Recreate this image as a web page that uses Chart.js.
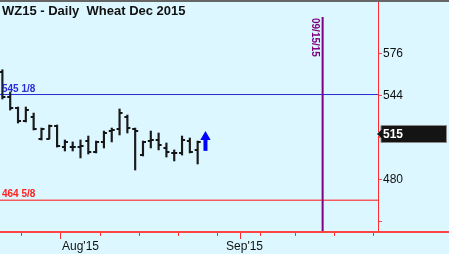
<!DOCTYPE html>
<html><head><meta charset="utf-8">
<script src="https://cdn.jsdelivr.net/npm/chart.js@4.4.1/dist/chart.umd.min.js"></script>
<style>html,body{margin:0;padding:0;background:#dcf7ff;overflow:hidden}#wrap{width:449px;height:254px;position:relative}</style>
</head><body><div id="wrap"><canvas id="c"></canvas></div>
<script>
// ---- data ----
const title = 'WZ15 - Daily  Wheat Dec 2015';
const dates = ['07/20','07/21','07/22','07/23','07/24','07/27','07/28','07/29','07/30','07/31',
               '08/03','08/04','08/05','08/06','08/07','08/10','08/11','08/12','08/13','08/14',
               '08/17','08/18','08/19','08/20','08/21','08/24'];
const highs  = [564.0,547.0,535.6,535.6,531.0,519.6,521.9,521.9,510.5,509.0,510.5,513.5,509.7,517.3,519.6,534.1,529.5,519.6,509.7,517.3,515.8,508.2,502.9,513.5,512.0,509.7];
const lows   = [541.7,533.3,523.4,524.2,518.1,510.5,511.2,505.1,502.1,502.1,496.8,499.8,500.6,504.4,509.0,514.3,515.8,487.6,498.3,504.4,502.9,497.5,494.5,499.0,500.6,492.2];
const opens  = [562.3,543.2,534.9,525.0,528.0,511.2,511.2,521.1,505.1,505.1,505.1,509.7,501.3,509.0,517.3,518.9,528.0,518.9,499.0,509.7,510.5,504.4,500.6,500.6,509.7,502.9];
const closes = [543.2,534.9,525.0,533.3,518.9,518.9,521.1,505.9,509.0,505.1,505.9,501.3,509.0,515.8,518.1,531.0,519.6,517.3,509.0,510.5,506.7,501.3,500.6,510.5,501.3,509.0];
const levelValues = [545.125, 464.625];
const levelLabels = ['545 1/8', '464 5/8'];
const levelColors = ['#2b2bd6', '#ff2020'];
const markerIndex = 41;           // 09/15/15
const markerLabel = '09/15/15';
const markerTop = 604.2;
const lastPrice = 515;
const arrowIndex = 26;
const arrowShaft = [502.2, 510.8];
const arrowHead = 512.7;
const yTickValues = [448, 480, 512, 544, 576];
const yTickLabels = {480: '480', 544: '544', 576: '576'};
const xTickValues = [0, 5, 10, 15, 20, 25, 30, 31, 35, 40, 45];
const xMonthLabels = {10: "Aug'15", 31: "Sep'15"};
const xMin = -0.307, xMax = 48.09, yMin = 440.38, yMax = 617.14;

// ---- rendering ----
const FONT = '"Liberation Sans", Arial, sans-serif';
function tickCanvas(side){
  const c = document.createElement('canvas'); c.width = 8; c.height = 2;
  const g = c.getContext('2d'); g.fillStyle = '#151515';
  if (side === 'left') g.fillRect(1, 0, 3, 2); else g.fillRect(4, 0, 3, 2);
  return c;
}
const idx = dates.map((d, i) => i);
const hl = idx.map(i => ({x: i, y: [lows[i], highs[i]]}));
const op = idx.map(i => ({x: i, y: opens[i]}));
const cl = idx.map(i => ({x: i, y: closes[i]}));

const overlay = {
  id: 'overlay',
  beforeDraw(chart){
    const c = chart.ctx; c.save(); c.fillStyle = '#dcf7ff'; c.fillRect(0, 0, chart.width, chart.height); c.restore();
  },
  afterDraw(chart){
    const c = chart.ctx, ys = chart.scales.y, xs = chart.scales.x, a = chart.chartArea;
    c.save();
    c.fillStyle = '#f44'; c.fillRect(0, a.bottom - 1, chart.width, 2);
    c.fillStyle = '#666'; c.fillRect(0, 0, chart.width, 2);
    c.fillStyle = '#111'; c.font = 'bold 13px ' + FONT; c.textBaseline = 'alphabetic';
    c.fillText(title, 2, 15);
    c.font = 'bold 10px ' + FONT;
    levelValues.forEach((v, k) => {
      c.fillStyle = levelColors[k];
      c.fillText(levelLabels[k], 2, ys.getPixelForValue(v) - 3);
    });
    const mx = xs.getPixelForValue(markerIndex);
    c.save(); c.translate(mx - 11, ys.getPixelForValue(markerTop) + 1); c.rotate(Math.PI / 2);
    c.fillStyle = '#800080'; c.font = 'bold 10px ' + FONT; c.textBaseline = 'alphabetic';
    c.fillText(markerLabel, 0, 0); c.restore();
    const py = Math.round(ys.getPixelForValue(lastPrice));
    const bx = a.right + 3;
    c.fillStyle = '#141414'; c.strokeStyle = '#888'; c.lineWidth = 1;
    c.beginPath();
    c.moveTo(a.right - 1, py);
    c.lineTo(bx, py - 4); c.lineTo(bx, py - 8.5); c.lineTo(chart.width - 2.5, py - 8.5);
    c.lineTo(chart.width - 2.5, py + 8.5); c.lineTo(bx, py + 8.5); c.lineTo(bx, py + 4); c.closePath();
    c.fill(); c.stroke();
    c.fillStyle = '#fff'; c.font = 'bold 12px ' + FONT; c.textBaseline = 'middle';
    c.fillText(String(lastPrice), bx + 2, py + 1);
    c.restore();
  }
};

new Chart(document.getElementById('c'), {
  type: 'bar',
  data: {
    datasets: [
      {type: 'bar', data: hl, backgroundColor: '#1a1a1a', barThickness: 1.5, grouped: false, order: 5},
      {type: 'scatter', data: op, pointStyle: tickCanvas('left'), pointRadius: 4, order: 4},
      {type: 'scatter', data: cl, pointStyle: tickCanvas('right'), pointRadius: 4, order: 4},
      {type: 'line', data: [{x: xMin, y: levelValues[0]}, {x: xMax, y: levelValues[0]}], borderColor: '#2b2bd6', borderWidth: 1, pointRadius: 0, order: 6},
      {type: 'line', data: [{x: xMin, y: levelValues[1]}, {x: xMax, y: levelValues[1]}], borderColor: '#ff1010', borderWidth: 1, pointRadius: 0, order: 6},
      {type: 'line', data: [{x: markerIndex, y: markerTop}, {x: markerIndex, y: yMin}], borderColor: '#800080', borderWidth: 2, pointRadius: 0, order: 3},
      {type: 'line', data: [{x: arrowIndex, y: arrowShaft[0]}, {x: arrowIndex, y: arrowShaft[1]}], borderColor: '#0000ff', borderWidth: 4, pointRadius: 0, order: 2},
      {type: 'scatter', data: [{x: arrowIndex, y: arrowHead}], pointStyle: 'triangle', pointRadius: 6, backgroundColor: '#0000ff', borderColor: '#0000ff', borderWidth: 0, order: 1}
    ]
  },
  options: {
    responsive: true, maintainAspectRatio: false, animation: false, devicePixelRatio: 1,
    layout: {padding: 0, autoPadding: false},
    plugins: {legend: {display: false}, tooltip: {enabled: false}, title: {display: false}},
    scales: {
      x: {
        type: 'linear', min: xMin, max: xMax, offset: false,
        border: {color: '#ff2a2a', width: 2},
        grid: {drawOnChartArea: false, tickLength: 7, tickColor: '#ff2a2a', tickWidth: 1,
               tickBorderDash: ctx => (ctx.tick && xMonthLabels[ctx.tick.value] !== undefined) ? [] : [3, 20]},
        afterBuildTicks: s => { s.ticks = xTickValues.map(v => ({value: v})); },
        ticks: {autoSkip: false, maxRotation: 0, padding: 0, color: '#111', font: {family: FONT, size: 12},
                callback: v => xMonthLabels[v] || ''},
        afterFit: s => { s.height = 22; s.paddingLeft = 0; s.paddingRight = 0; }
      },
      y: {
        type: 'linear', position: 'right', min: yMin, max: yMax,
        border: {color: '#ff2a2a', width: 1},
        grid: {drawOnChartArea: false, tickLength: 4, tickColor: '#ff4a4a', tickWidth: 1},
        afterBuildTicks: s => { s.ticks = yTickValues.map(v => ({value: v})); },
        ticks: {padding: 1, color: '#111', font: {family: FONT, size: 12}, callback: v => yTickLabels[v] || ''},
        afterFit: s => { s.width = 71; s.paddingTop = 0; s.paddingBottom = 0; }
      }
    }
  },
  plugins: [overlay]
});
</script></body></html>
